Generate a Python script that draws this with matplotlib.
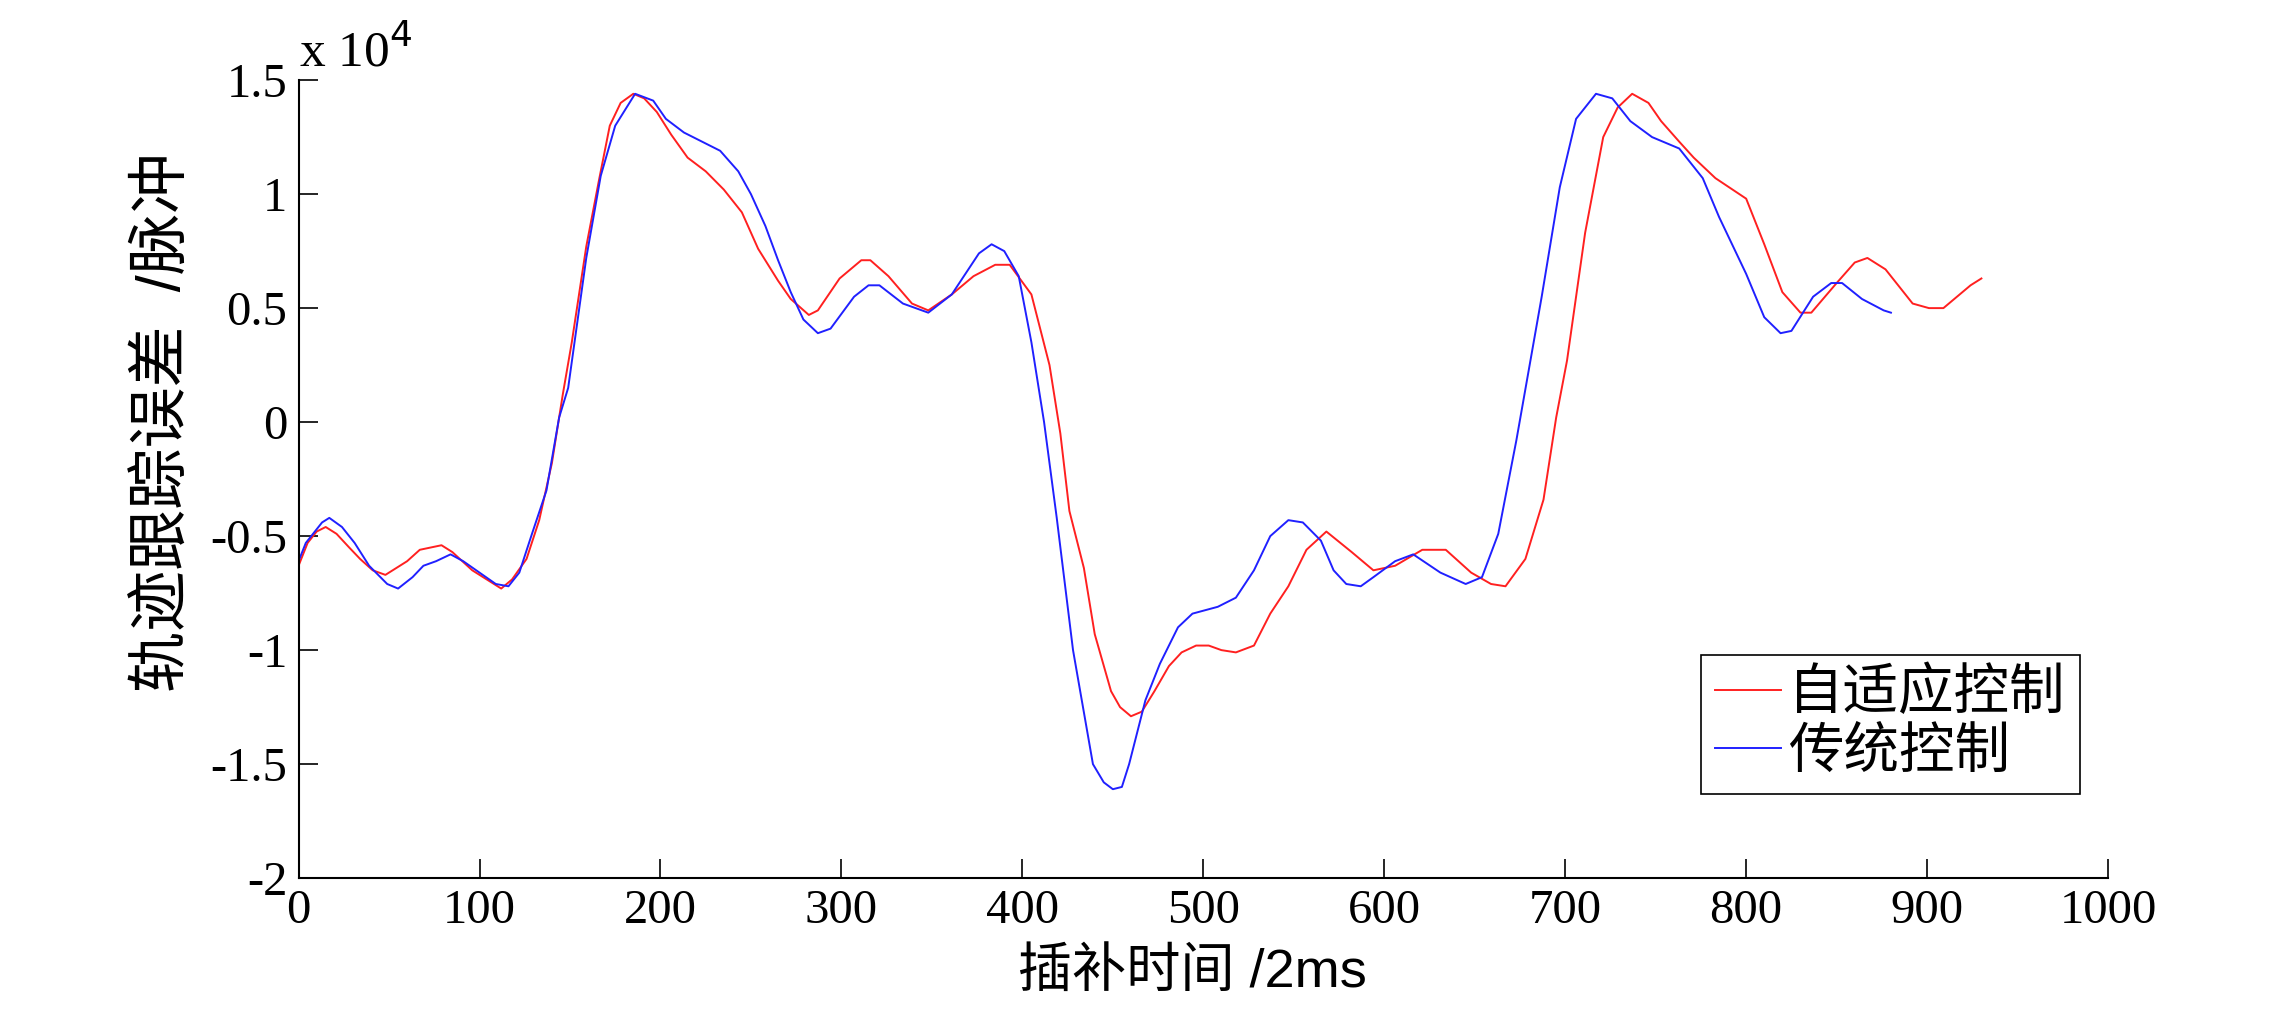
import numpy as np
import matplotlib
matplotlib.use("Agg")
import matplotlib.pyplot as plt

matplotlib.rcParams['font.family'] = ['Liberation Serif', 'Noto Sans CJK SC']
matplotlib.rcParams['axes.unicode_minus'] = False

adaptive_x = [0, 5, 10, 15, 21, 28, 34, 41, 48, 54, 60, 67, 79, 85, 96, 104, 112, 118, 126, 133,
              140, 146, 151, 159, 166, 172, 178, 185, 191, 198, 206, 215, 225, 235, 245, 254, 265,
              272, 282, 287, 299, 311, 316, 326, 339, 348, 361, 373, 385, 393, 405, 415, 421, 426,
              434, 440, 449, 454, 460, 466, 473, 481, 488, 496, 503, 510, 518, 528, 537, 547, 557,
              568, 582, 594, 606, 621, 634, 648, 659, 667, 678, 688, 695, 701, 711, 721, 729, 737,
              746, 753, 763, 771, 783, 800, 810, 820, 830, 836, 850, 860, 867, 877, 892, 901, 909,
              924, 930]
adaptive_y = [-0.63, -0.53, -0.48, -0.46, -0.49, -0.55, -0.60, -0.65, -0.67, -0.64, -0.61, -0.56,
              -0.54, -0.57, -0.65, -0.69, -0.73, -0.69, -0.60, -0.43, -0.18, 0.12, 0.35, 0.77, 1.06,
              1.30, 1.40, 1.44, 1.42, 1.36, 1.26, 1.16, 1.10, 1.02, 0.92, 0.76, 0.62, 0.54, 0.47,
              0.49, 0.63, 0.71, 0.71, 0.64, 0.52, 0.49, 0.56, 0.64, 0.69, 0.69, 0.56, 0.25, -0.05,
              -0.39, -0.64, -0.93, -1.18, -1.25, -1.29, -1.27, -1.18, -1.07, -1.01, -0.98, -0.98,
              -1.00, -1.01, -0.98, -0.84, -0.72, -0.56, -0.48, -0.57, -0.65, -0.63, -0.56, -0.56,
              -0.66, -0.71, -0.72, -0.60, -0.34, 0.02, 0.27, 0.83, 1.25, 1.38, 1.44, 1.40, 1.32,
              1.23, 1.16, 1.07, 0.98, 0.78, 0.57, 0.48, 0.48, 0.61, 0.70, 0.72, 0.67, 0.52, 0.50,
              0.50, 0.60, 0.63]

classic_x = [0, 4, 13, 17, 24, 31, 39, 49, 55, 63, 69, 76, 84, 91, 100, 109, 116, 122, 129, 137,
             144, 149, 159, 167, 175, 186, 196, 203, 213, 223, 233, 243, 250, 258, 265, 272, 279,
             287, 294, 307, 315, 321, 334, 348, 361, 376, 383, 390, 398, 405, 412, 419, 428, 439,
             445, 450, 455, 459, 468, 476, 486, 494, 508, 518, 528, 537, 547, 555, 565, 572, 579,
             587, 594, 606, 616, 631, 645, 654, 663, 673, 687, 697, 706, 717, 726, 736, 748, 763,
             776, 785, 800, 810, 819, 825, 837, 847, 853, 864, 876, 880]
classic_y = [-0.61, -0.53, -0.44, -0.42, -0.46, -0.53, -0.63, -0.71, -0.73, -0.68, -0.63, -0.61,
             -0.58, -0.61, -0.66, -0.71, -0.72, -0.66, -0.49, -0.30, 0.02, 0.15, 0.72, 1.08, 1.30,
             1.44, 1.41, 1.33, 1.27, 1.23, 1.19, 1.10, 1.00, 0.86, 0.71, 0.57, 0.45, 0.39, 0.41,
             0.55, 0.60, 0.60, 0.52, 0.48, 0.56, 0.74, 0.78, 0.75, 0.64, 0.35, 0.00, -0.42, -1.00,
             -1.50, -1.58, -1.61, -1.60, -1.50, -1.22, -1.06, -0.90, -0.84, -0.81, -0.77, -0.65,
             -0.50, -0.43, -0.44, -0.52, -0.65, -0.71, -0.72, -0.68, -0.61, -0.58, -0.66, -0.71,
             -0.68, -0.49, -0.08, 0.55, 1.03, 1.33, 1.44, 1.42, 1.32, 1.25, 1.20, 1.07, 0.90, 0.65,
             0.46, 0.39, 0.40, 0.55, 0.61, 0.61, 0.54, 0.49, 0.48]

series_names = ["自适应控制", "传统控制"]
xticks = np.arange(0, 1001, 100)
yticks = [-2, -1.5, -1, -0.5, 0, 0.5, 1, 1.5]
ytick_labels = ["-2", "-1.5", "-1", "-0.5", "0", "0.5", "1", "1.5"]

fig = plt.figure(figsize=(22.79, 10.14), dpi=100)
ax = fig.add_axes([0.131, 0.134, 0.794, 0.787])

ax.plot(adaptive_x, adaptive_y, color="#ff2020", linewidth=1.4, label=series_names[0])
ax.plot(classic_x, classic_y, color="#2020ff", linewidth=1.4, label=series_names[1])

ax.set_xlim(0, 1000)
ax.set_ylim(-2, 1.5)
ax.set_xticks(xticks)
ax.set_xticklabels([str(t) for t in xticks])
ax.set_yticks(yticks)
ax.set_yticklabels(ytick_labels)
ax.tick_params(axis="both", direction="in", length=14, width=1.2, labelsize=35, pad=8)

for side in ["top", "right"]:
    ax.spines[side].set_visible(False)
for side in ["left", "bottom"]:
    ax.spines[side].set_linewidth(1.5)

ax.text(0.0, 1.003, r"x 10$^{4}$", transform=ax.transAxes, fontsize=37,
        ha="left", va="bottom")

ax.set_xlabel("插补时间 /2ms", fontsize=39,
              family=["Liberation Sans", "Noto Sans CJK SC"])
ax.xaxis.set_label_coords(0.494, -0.088)
ax.set_ylabel("轨迹跟踪误差  /脉冲", fontsize=44,
              family=["Liberation Sans", "Noto Sans CJK SC"])
ax.yaxis.set_label_coords(-0.058, 0.572)

leg = ax.legend(loc="lower left", bbox_to_anchor=(0.775, 0.106), fontsize=40,
                fancybox=False, edgecolor="k", framealpha=1, handlelength=1.2,
                handletextpad=0.12, borderpad=0.25, labelspacing=0.12,
                borderaxespad=0)
leg.get_frame().set_linewidth(1.2)

fig.savefig("out.png", dpi=100)
